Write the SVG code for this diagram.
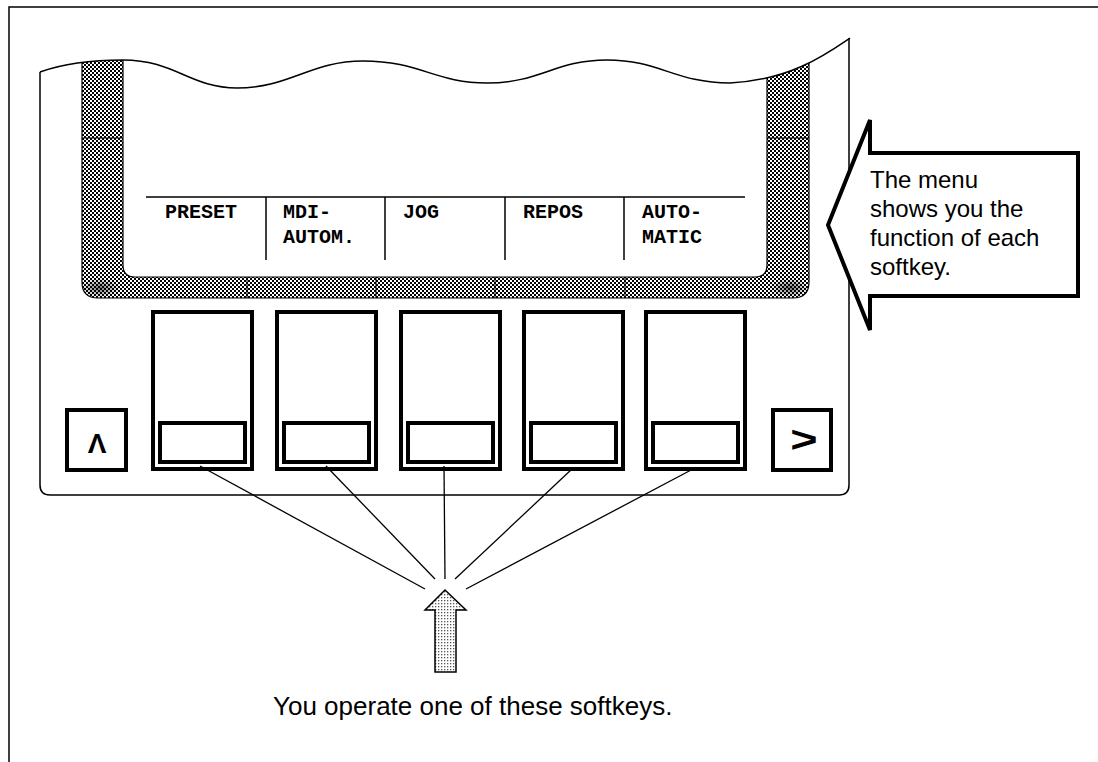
<svg xmlns="http://www.w3.org/2000/svg" width="1098" height="762" viewBox="0 0 1098 762">
<defs>
<pattern id="checker" width="4" height="4" patternUnits="userSpaceOnUse">
<rect width="4" height="4" fill="#ffffff"/>
<rect x="0" y="0" width="2" height="2" fill="#000"/>
<rect x="2" y="2" width="2" height="2" fill="#000"/>
</pattern>
<pattern id="dots" width="3" height="3" patternUnits="userSpaceOnUse">
<rect width="3" height="3" fill="#ffffff"/>
<rect x="0" y="0" width="1.3" height="1.3" fill="#555"/>
</pattern>
<radialGradient id="shadeL" cx="0.5" cy="0.5" r="0.5">
<stop offset="0" stop-color="#000" stop-opacity="0.55"/>
<stop offset="1" stop-color="#000" stop-opacity="0"/>
</radialGradient>
<clipPath id="underWave">
<path d="M40,72 C65,63 95,60 123,60 C175,60 190,88 237,88 C290,88 310,61 363,61 C420,61 435,83 487,83 C540,83 555,60 607,60 C660,60 675,83 730,83 C790,80 825,55 850,38 L850,320 L40,320 Z"/>
</clipPath>
<style>
.ln{fill:none;stroke:#000;stroke-width:1.5}
.key{fill:#fff;stroke:#000;stroke-width:4}
.menu{font-family:"Liberation Mono","Courier New",monospace;font-weight:bold;font-size:20px;fill:#000}
.sans{font-family:"Liberation Sans",Arial,sans-serif;fill:#000}
.conn{stroke:#000;stroke-width:1.3;fill:none}
</style>
</defs>
<rect width="1098" height="762" fill="#fff"/>
<!-- outer frame -->
<path class="ln" d="M9,762 L9,7 L1098,7"/>

<g id="panel">
<path class="ln" d="M40,72 L40,485 Q40,495 50,495 L839,495 Q849,495 849,485 L849,38"/>
<g clip-path="url(#underWave)">
<path fill="url(#checker)" fill-rule="evenodd" stroke="#000" stroke-width="1.2" d="M82,20 L82,282 Q82,298 98,298 L793,298 Q809,298 809,282 L809,20 Z M123,20 L123,265 Q123,277 135,277 L755,277 Q767,277 767,265 L767,20 Z"/>
<path stroke="#000" stroke-width="1" d="M82,138 L123,138 M767,138 L809,138 M247,277 L247,298 M376,277 L376,298 M495,277 L495,298 M625,277 L625,298"/>
<ellipse cx="100" cy="288" rx="20" ry="10" fill="url(#shadeL)"/>
<ellipse cx="790" cy="288" rx="20" ry="10" fill="url(#shadeL)"/>
</g>
<path class="ln" d="M40,72 C65,63 95,60 123,60 C175,60 190,88 237,88 C290,88 310,61 363,61 C420,61 435,83 487,83 C540,83 555,60 607,60 C660,60 675,83 730,83 C790,80 825,55 850,38"/>
</g>

<g id="menu">
<path class="ln" d="M146,197 L745,197 M266,197 L266,260 M385,197 L385,260 M505,197 L505,260 M624,197 L624,260"/>
<text class="menu" x="165" y="218">PRESET</text>
<text class="menu" x="283" y="218">MDI-</text>
<text class="menu" x="283" y="243">AUTOM.</text>
<text class="menu" x="403" y="218">JOG</text>
<text class="menu" x="523" y="218">REPOS</text>
<text class="menu" x="642" y="218">AUTO-</text>
<text class="menu" x="642" y="243">MATIC</text>
</g>

<g id="key-up">
<rect class="key" x="67" y="410" width="59" height="60"/>
<text class="sans" x="97" y="453" font-size="28" font-weight="bold" text-anchor="middle">Λ</text>
</g>
<g id="softkey1"><rect class="key" x="153" y="312" width="99" height="157"/><rect class="key" x="160" y="423" width="85" height="39"/></g>
<g id="softkey2"><rect class="key" x="277" y="312" width="99" height="157"/><rect class="key" x="284" y="423" width="85" height="39"/></g>
<g id="softkey3"><rect class="key" x="401" y="312" width="99" height="157"/><rect class="key" x="408" y="423" width="85" height="39"/></g>
<g id="softkey4"><rect class="key" x="524" y="312" width="99" height="157"/><rect class="key" x="531" y="423" width="85" height="39"/></g>
<g id="softkey5"><rect class="key" x="646" y="312" width="99" height="157"/><rect class="key" x="653" y="423" width="85" height="39"/></g>
<g id="key-right">
<rect class="key" x="773" y="410" width="58" height="60"/>
<text class="sans" font-size="36" font-weight="bold" text-anchor="middle" transform="translate(804,452) scale(1.3,1)">&gt;</text>
</g>

<g id="connectors">
<line class="conn" x1="200" y1="466" x2="425" y2="589"/>
<line class="conn" x1="326" y1="466" x2="435" y2="579"/>
<line class="conn" x1="444" y1="466" x2="445" y2="579"/>
<line class="conn" x1="572" y1="469" x2="455" y2="579"/>
<line class="conn" x1="693" y1="469" x2="466" y2="589"/>
</g>

<g id="up-arrow">
<polygon points="445,590 466,610 456,610 456,672 435,672 435,610 425,610" fill="url(#dots)" stroke="#000" stroke-width="1.5" stroke-linejoin="miter"/>
</g>
<g id="label-bottom">
<text class="sans" x="273" y="715" font-size="26">You operate one of these softkeys.</text>
</g>

<g id="callout">
<polygon points="828,225 870,120 870,153 1078,153 1078,296 870,296 870,330" fill="#fff" stroke="#000" stroke-width="4" stroke-linejoin="miter"/>
<text class="sans" font-size="24">
<tspan x="870" y="188">The menu</tspan>
<tspan x="870" y="217">shows you the</tspan>
<tspan x="870" y="246">function of each</tspan>
<tspan x="870" y="275">softkey.</tspan>
</text>
</g>
</svg>
